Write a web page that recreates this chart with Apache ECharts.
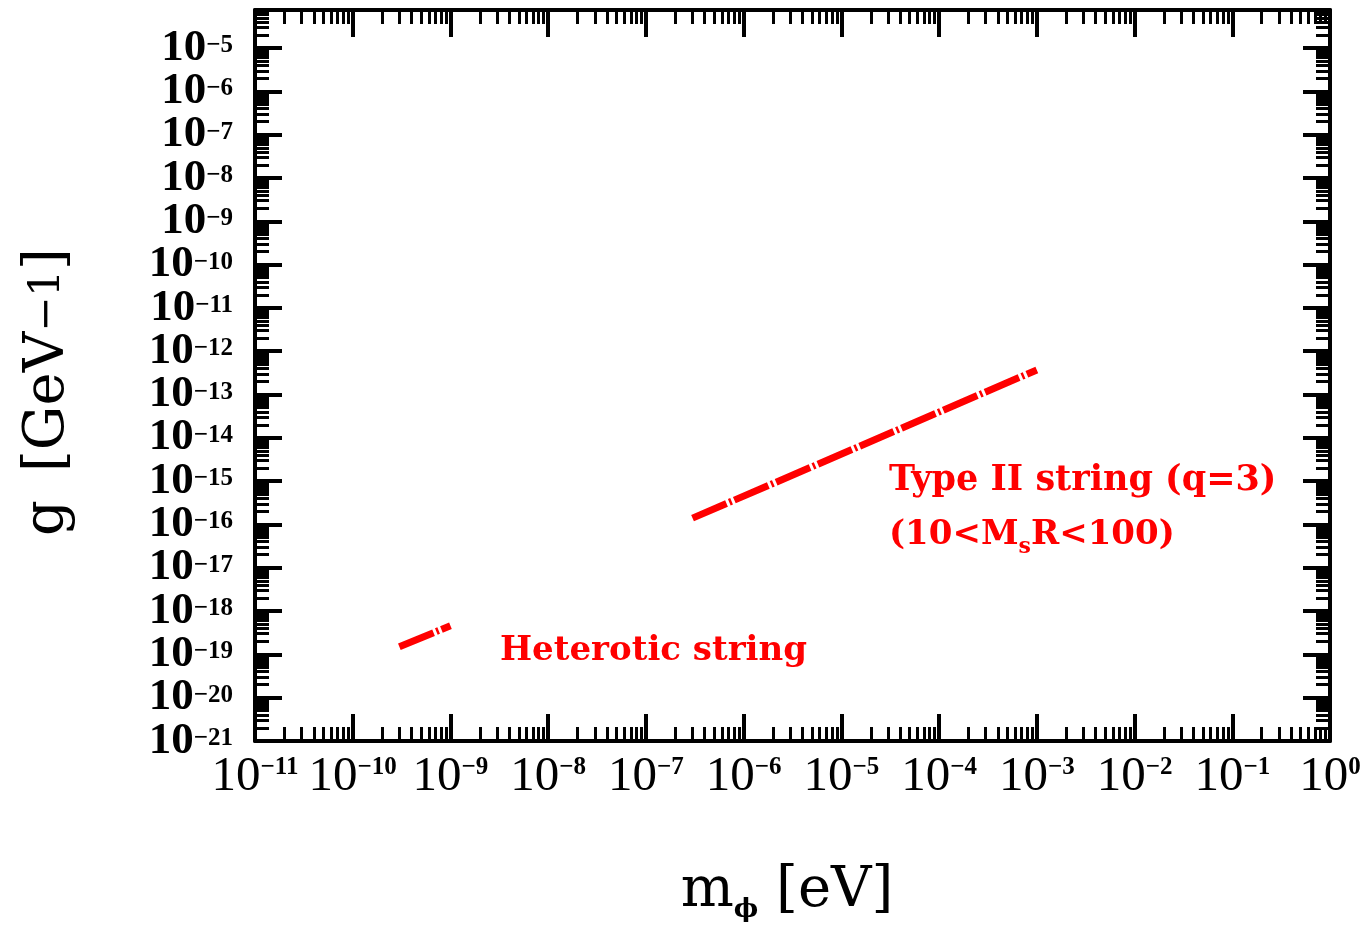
<!DOCTYPE html>
<html>
<head>
<meta charset="utf-8">
<script src="https://cdn.jsdelivr.net/npm/echarts@6/dist/echarts.min.js"></script>
<style>
html,body{margin:0;padding:0;background:#fff;}
#c{width:1370px;height:925px;}
</style>
</head>
<body>
<div id="c"></div>
<script>
// ---- data ----
const xTickExponents = [-11,-10,-9,-8,-7,-6,-5,-4,-3,-2,-1,0];
const yTickExponents = [-21,-20,-19,-18,-17,-16,-15,-14,-13,-12,-11,-10,-9,-8,-7,-6,-5];
const heteroticX = [3.0e-10, 1.0e-9];
const heteroticY = [1.5e-19, 4.6e-19];
const typeIIX = [3.0e-7, 1.0e-3];
const typeIIY = [1.4e-16, 3.7e-13];
const xTitle = 'm';
const xTitleSub = 'ϕ';
const xTitleUnit = ' [eV]';
const yTitle = 'g';
const annHeterotic = 'Heterotic string';
const annType2a = 'Type II string (q=3)';

// ---- axis extents ----
const xMin = Math.pow(10, -11) * 0.99999, xMax = 1.00001;
const yMin = Math.pow(10, -21) * 0.99999, yMax = Math.pow(10, -4.12);

const majX = xTickExponents.map(e => Number('1e' + e));
const majY = yTickExponents.map(e => Number('1e' + e));
const majYEven = yTickExponents.filter(e => Math.abs(e) % 2 === 1).map(e => Number('1e' + e));
const majYOdd = yTickExponents.filter(e => Math.abs(e) % 2 === 0).map(e => Number('1e' + e));
function minorTicks(lo, hi) {
  const out = [];
  for (let d = lo; d < hi; d++) for (let k = 2; k <= 9; k++) out.push(Number(k + 'e' + d));
  return out;
}
const minX = minorTicks(-11, 0);
const minY = minorTicks(-21, -4).filter(v => v <= yMax);

function supLabel(v) {
  const e = Math.round(Math.log10(v));
  return '{b|10}{s|' + (e < 0 ? '−' + (-e) : String(e)) + '}';
}

const black = '#000';
function axisBase(kind, pos, ticks, labels, isX) {
  const a = {
    type: 'log', logBase: 10, position: pos,
    min: isX ? xMin : yMin, max: isX ? xMax : yMax,
    splitLine: { show: false },
    axisLine: { show: kind === 'major', onZero: false, lineStyle: { color: black, width: 4 } },
    axisTick: {
      show: kind !== 'label', inside: true,
      length: kind === 'major' ? 27 : 14,
      customValues: ticks,
      lineStyle: { color: black, width: kind === 'major' ? 4 : 3 }
    },
    axisLabel: { show: false },
    offset: 0,
    z: 3
  };
  if (labels) {
    a.axisLabel = isX ? {
      show: true, customValues: labels, interval: 0, hideOverlap: false,
      showMinLabel: true, showMaxLabel: true,
      margin: 14,
      formatter: supLabel,
      rich: {
        b: { fontFamily: 'Liberation Serif', fontSize: 49, color: black, lineHeight: 44 },
        s: { fontFamily: 'Liberation Serif', fontWeight: 'bold', fontSize: 25, color: black, verticalAlign: 'top', lineHeight: 24 }
      }
    } : {
      show: true, customValues: labels, interval: 0, hideOverlap: false,
      showMinLabel: true, showMaxLabel: true,
      margin: 22,
      formatter: supLabel,
      rich: {
        b: { fontFamily: 'Liberation Serif', fontWeight: 'bold', fontSize: 45, color: black, lineHeight: 30 },
        s: { fontFamily: 'Liberation Serif', fontWeight: 'bold', fontSize: 25, color: black, verticalAlign: 'top', lineHeight: 14 }
      }
    };
  }
  return a;
}

const chart = echarts.init(document.getElementById('c'), null, { renderer: 'canvas' });
const red = '#ff0000';
const dash = [37, 3, 2.5, 3];

chart.setOption({
  animation: false,
  backgroundColor: '#fff',
  grid: { left: 255, right: 40, top: 10, bottom: 184, containLabel: false, outerBoundsMode: 'none' },
  xAxis: [
    axisBase('major', 'bottom', majX, majX, true),
    axisBase('minor', 'bottom', minX, null, true),
    axisBase('major', 'top', majX, null, true),
    axisBase('minor', 'top', minX, null, true)
  ],
  yAxis: [
    axisBase('major', 'left', majY, majYEven, false),
    axisBase('minor', 'left', minY, null, false),
    axisBase('major', 'right', majY, null, false),
    axisBase('minor', 'right', minY, null, false),
    axisBase('label', 'left', majY, majYOdd, false)
  ],
  series: [
    {
      type: 'line', name: annHeterotic, xAxisIndex: 0, yAxisIndex: 0,
      data: heteroticX.map((x, i) => [x, heteroticY[i]]),
      showSymbol: false, symbol: 'none',
      lineStyle: { color: red, width: 7, type: dash, cap: 'butt' }, z: 5
    },
    {
      type: 'line', name: annType2a, xAxisIndex: 0, yAxisIndex: 0,
      data: typeIIX.map((x, i) => [x, typeIIY[i]]),
      showSymbol: false, symbol: 'none',
      lineStyle: { color: red, width: 7, type: dash, cap: 'butt' }, z: 5
    }
  ],
  graphic: [
    {
      type: 'text', x: 500, y: 651, z: 10,
      style: { text: annHeterotic, fill: red, font: 'bold 34px "DejaVu Serif"', align: 'left', verticalAlign: 'middle' }
    },
    {
      type: 'text', x: 889, y: 481, z: 10,
      style: { text: annType2a, fill: red, font: 'bold 35px "DejaVu Serif"', align: 'left', verticalAlign: 'middle' }
    },
    {
      type: 'text', x: 889, y: 538, z: 10,
      style: {
        text: '{a|(10<M}{s|s}{a|R<100)}', align: 'left', verticalAlign: 'middle',
        rich: {
          a: { fill: red, fontFamily: 'DejaVu Serif', fontWeight: 'bold', fontSize: 34, lineHeight: 40, verticalAlign: 'top' },
          s: { fill: red, fontFamily: 'DejaVu Serif', fontWeight: 'bold', fontSize: 22, lineHeight: 22, verticalAlign: 'bottom', padding: [24, 0, 0, 0] }
        }
      }
    },
    {
      type: 'text', x: 787, y: 893, z: 10,
      style: {
        text: '{a|' + xTitle + '}{s|' + xTitleSub + '}{a|' + xTitleUnit + '}', align: 'center', verticalAlign: 'middle',
        rich: {
          a: { fill: black, fontFamily: 'DejaVu Serif', fontSize: 56, lineHeight: 60, verticalAlign: 'top' },
          s: { fill: black, fontFamily: 'DejaVu Serif', fontWeight: 'bold', fontSize: 26, lineHeight: 26, verticalAlign: 'bottom', padding: [52, 0, 0, 0] }
        }
      }
    },
    {
      type: 'text', x: 48, y: 392, rotation: Math.PI / 2, z: 10,
      style: {
        text: '{a|' + yTitle + '\u2002[GeV}{s|−1}{a|]}', align: 'center', verticalAlign: 'middle',
        rich: {
          a: { fill: black, fontFamily: 'DejaVu Serif', fontSize: 56, lineHeight: 64 },
          s: { fill: black, fontFamily: 'DejaVu Serif', fontSize: 42, lineHeight: 42 }
        }
      }
    }
  ]
});
</script>
</body>
</html>
